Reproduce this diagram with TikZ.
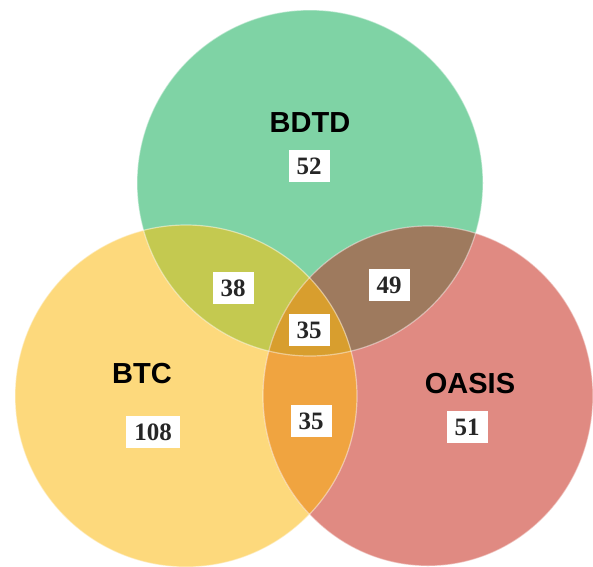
\documentclass[tikz,border=0pt]{standalone}
\usepackage{fontspec}
\setmainfont{Liberation Serif}
\setsansfont{Liberation Sans}
\definecolor{cgreen}{RGB}{127,211,165}
\definecolor{cyellow}{RGB}{253,217,124}
\definecolor{cred}{RGB}{224,138,130}
\definecolor{cgy}{RGB}{196,201,80}
\definecolor{cgr}{RGB}{158,122,94}
\definecolor{cyr}{RGB}{240,164,64}
\definecolor{call}{RGB}{216,158,46}
\tikzset{
  setname/.style={font=\sffamily\bfseries\fontsize{29}{29}\selectfont, text=black, inner sep=0pt},
  countbox/.style={fill=white, font=\rmfamily\bfseries\fontsize{25}{25}\selectfont, text=black!85,
    minimum height=32pt, inner xsep=8pt, inner ysep=0pt, text height=17pt, text depth=0pt},
  rim/.style={draw=white, draw opacity=0.45, line width=1.2pt}
}
\begin{document}
\begin{tikzpicture}[x=1pt,y=-1pt]
\useasboundingbox (0,0) rectangle (593,566);
\fill[white] (0,0) rectangle (593,566);
\begin{scope}
\clip (0,0) rectangle (593,566);
\def\cG{(310,183) circle[radius=173]}
\def\cY{(186,396) ellipse[x radius=171, y radius=171]}
\def\cR{(428,396) ellipse[x radius=165, y radius=170]}
\fill[cgreen] \cG;
\fill[cyellow] \cY;
\fill[cred] \cR;
\begin{scope}\clip \cG; \fill[cgy] \cY; \end{scope}
\begin{scope}\clip \cG; \fill[cgr] \cR; \end{scope}
\begin{scope}\clip \cY; \fill[cyr] \cR; \end{scope}
\begin{scope}\clip \cG; \clip \cY; \fill[call] \cR; \end{scope}
\draw[rim] \cG;
\draw[rim] \cY;
\draw[rim] \cR;
\end{scope}
\node[setname] (bdtd) at (310,123) {BDTD};
\node[setname] (btc) at (142,374) {BTC};
\node[setname] (oasis) at (470,384) {OASIS};
\node[countbox] (n52) at (309,166) {52};
\node[countbox] (n38) at (233,288) {38};
\node[countbox] (n49) at (389,285) {49};
\node[countbox] (n35a) at (309,330) {35};
\node[countbox] (n35b) at (311,421) {35};
\node[countbox] (n108) at (153,432) {108};
\node[countbox] (n51) at (467,427) {51};
\end{tikzpicture}
\end{document}
